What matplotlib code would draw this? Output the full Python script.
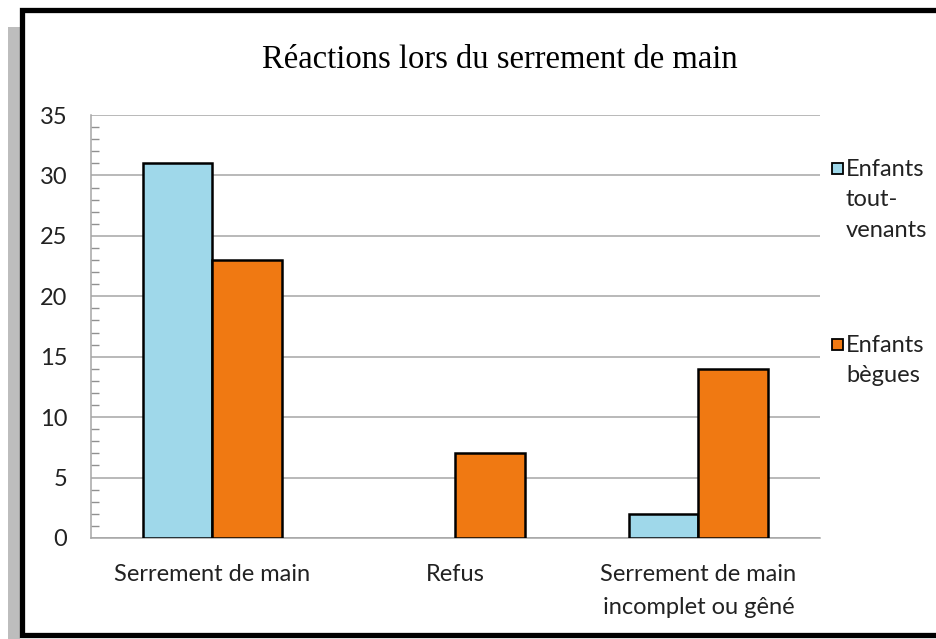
import numpy as np
import matplotlib
matplotlib.use("Agg")
import matplotlib.pyplot as plt
from matplotlib.patches import Rectangle

# data
categories = ["Serrement de main", "Refus", "Serrement de main\nincomplet ou gêné"]
tout_venants = [31, 0, 2]
begues = [23, 7, 14]
series_labels = ["Enfants\ntout-\nvenants", "Enfants\nbègues"]
colors = ["#9fd8ea", "#f07912"]

W, H = 937, 639
fig = plt.figure(figsize=(W / 100, H / 100), dpi=100)

def fx(px):
    return px / W

def fy(py):
    return 1 - py / H

# grey shadow on the left + black frame
fig.add_artist(Rectangle((fx(8), 0), fx(12), fy(27), transform=fig.transFigure,
                         facecolor="#bdbdbd", edgecolor="none", zorder=0))
fig.add_artist(Rectangle((fx(22), fy(635)), fx(930), fy(10) - fy(635),
                         transform=fig.transFigure, facecolor="white",
                         edgecolor="black", linewidth=3.8, zorder=1))

ax = fig.add_axes([fx(91), fy(538), fx(820) - fx(91), fy(115) - fy(538)])
ax.set_zorder(2)
ax.patch.set_alpha(0)

x = np.arange(len(categories))
w = 0.288
edges_a = ["black" if v > 0 else "none" for v in tout_venants]
edges_b = ["black" if v > 0 else "none" for v in begues]
ax.bar(x - w / 2, tout_venants, w, color=colors[0], edgecolor=edges_a, linewidth=1.8, zorder=3)
ax.bar(x + w / 2, begues, w, color=colors[1], edgecolor=edges_b, linewidth=1.8, zorder=3)

ax.set_xlim(-0.5, 2.5)
ax.set_ylim(0, 35)
ax.set_yticks(range(0, 36, 5))
ax.set_yticks(range(0, 36), minor=True)
ax.grid(axis="y", which="major", color="#a6a6a6", linewidth=1.1, zorder=1)

for s in ["top", "right"]:
    ax.spines[s].set_visible(False)
ax.spines["left"].set_color("#a6a6a6")
ax.spines["bottom"].set_color("#a6a6a6")
ax.spines["left"].set_linewidth(1.1)
ax.spines["bottom"].set_linewidth(1.1)

ax.tick_params(axis="y", which="major", length=0, pad=17, labelsize=17, labelcolor="#222222")
ax.tick_params(axis="y", which="minor", direction="in", length=6, color="#909090", width=1)
ax.tick_params(axis="x", length=0, pad=19, labelsize=17, labelcolor="#222222")
ax.set_xticks(x)
ax.set_xticklabels(categories, linespacing=1.7)
for lab in ax.get_xticklabels() + ax.get_yticklabels():
    lab.set_family("Lato")

fig.text(fx(500), fy(60), "Réactions lors du serrement de main", ha="center", va="center",
         fontsize=23.5, family="Liberation Serif", color="black")

# legend drawn on the right, text wrapped as in the reference
leg_y = [168, 344]
for lbl, col, yy in zip(series_labels, colors, leg_y):
    fig.add_artist(Rectangle((fx(832), fy(yy + 6)), fx(11), fy(yy - 5) - fy(yy + 6),
                             transform=fig.transFigure, facecolor=col,
                             edgecolor="black", linewidth=1.3, zorder=3))
    fig.text(fx(846), fy(yy - 9), lbl, ha="left", va="top", fontsize=17,
             family="Lato", color="#222222", linespacing=1.55)

fig.savefig("out.png", dpi=100)
